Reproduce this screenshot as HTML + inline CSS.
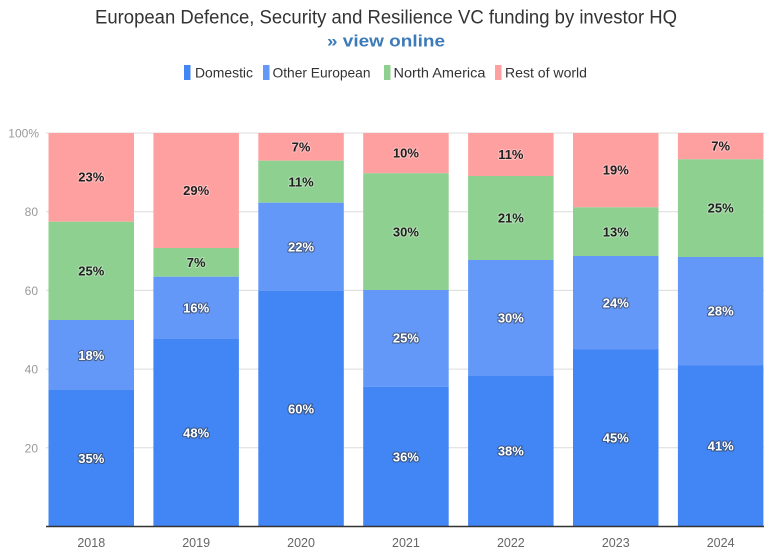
<!DOCTYPE html>
<html><head><meta charset="utf-8"><style>
html,body{margin:0;padding:0;background:#fff;}
svg{display:block;}
.lbl{font-family:"Liberation Sans",sans-serif;font-weight:bold;font-size:13px;text-anchor:middle;}
.w{fill:#fff;stroke:#333;stroke-width:2.2px;paint-order:stroke;stroke-linejoin:round;stroke-opacity:0.55;}
.d{fill:#222;stroke:#fff;stroke-width:2px;paint-order:stroke;stroke-linejoin:round;stroke-opacity:0.35;}
.ax{font-family:"Liberation Sans",sans-serif;font-size:12px;fill:#999;text-anchor:end;}
.xl{font-family:"Liberation Sans",sans-serif;font-size:12.5px;fill:#666;text-anchor:middle;}
.lg{font-family:"Liberation Sans",sans-serif;font-size:14px;fill:#333;}
</style></head><body>
<svg width="770" height="552" viewBox="0 0 770 552" xmlns="http://www.w3.org/2000/svg">
<rect width="770" height="552" fill="#fff"/>
<text x="95" y="23.5" font-family="Liberation Sans, sans-serif" font-size="19" fill="#333" textLength="582" lengthAdjust="spacingAndGlyphs">European Defence, Security and Resilience VC funding by investor HQ</text>
<text x="327" y="46.5" font-family="Liberation Sans, sans-serif" font-size="17" font-weight="bold" fill="#3d7ab8" textLength="118" lengthAdjust="spacingAndGlyphs">» view online</text>

<rect x="184" y="65" width="6.5" height="15" fill="#4285f4"/>
<text class="lg" x="195" y="77.5" textLength="58" lengthAdjust="spacingAndGlyphs">Domestic</text>
<rect x="263" y="65" width="6.5" height="15" fill="#6398f9"/>
<text class="lg" x="272.5" y="77.5" textLength="98" lengthAdjust="spacingAndGlyphs">Other European</text>
<rect x="384" y="65" width="6.5" height="15" fill="#8ed08f"/>
<text class="lg" x="393.5" y="77.5" textLength="92" lengthAdjust="spacingAndGlyphs">North America</text>
<rect x="495" y="65" width="6.5" height="15" fill="#ffa0a0"/>
<text class="lg" x="505" y="77.5" textLength="82" lengthAdjust="spacingAndGlyphs">Rest of world</text>

<g stroke="#dcdcdc" stroke-width="1">
<line x1="46" y1="133" x2="764" y2="133"/>
<line x1="46" y1="211.7" x2="764" y2="211.7"/>
<line x1="46" y1="290.4" x2="764" y2="290.4"/>
<line x1="46" y1="369.1" x2="764" y2="369.1"/>
<line x1="46" y1="447.8" x2="764" y2="447.8"/>
</g>
<text class="ax" x="39" y="137.5">100%</text>
<text class="ax" x="38" y="216">80</text>
<text class="ax" x="38" y="295">60</text>
<text class="ax" x="38" y="373.5">40</text>
<text class="ax" x="38" y="452.5">20</text>

<!-- 2018 -->
<g>
<rect x="48.5" y="133" width="85.5" height="88.7" fill="#ffa0a0"/>
<rect x="48.5" y="221.7" width="85.5" height="98.3" fill="#8ed08f"/>
<rect x="48.5" y="320" width="85.5" height="70" fill="#6398f9"/>
<rect x="48.5" y="390" width="85.5" height="136.5" fill="#4285f4"/>
</g>
<!-- 2019 -->
<g>
<rect x="153.4" y="133" width="85.5" height="115" fill="#ffa0a0"/>
<rect x="153.4" y="248" width="85.5" height="28.7" fill="#8ed08f"/>
<rect x="153.4" y="276.7" width="85.5" height="62.3" fill="#6398f9"/>
<rect x="153.4" y="339" width="85.5" height="187.5" fill="#4285f4"/>
</g>
<!-- 2020 -->
<g>
<rect x="258.3" y="133" width="85.5" height="27.7" fill="#ffa0a0"/>
<rect x="258.3" y="160.7" width="85.5" height="42" fill="#8ed08f"/>
<rect x="258.3" y="202.7" width="85.5" height="88" fill="#6398f9"/>
<rect x="258.3" y="290.7" width="85.5" height="235.8" fill="#4285f4"/>
</g>
<!-- 2021 -->
<g>
<rect x="363.2" y="133" width="85.5" height="40.3" fill="#ffa0a0"/>
<rect x="363.2" y="173.3" width="85.5" height="116.7" fill="#8ed08f"/>
<rect x="363.2" y="290" width="85.5" height="96.7" fill="#6398f9"/>
<rect x="363.2" y="386.7" width="85.5" height="139.8" fill="#4285f4"/>
</g>
<!-- 2022 -->
<g>
<rect x="468.1" y="133" width="85.5" height="43" fill="#ffa0a0"/>
<rect x="468.1" y="176" width="85.5" height="84" fill="#8ed08f"/>
<rect x="468.1" y="260" width="85.5" height="116" fill="#6398f9"/>
<rect x="468.1" y="376" width="85.5" height="150.5" fill="#4285f4"/>
</g>
<!-- 2023 -->
<g>
<rect x="573" y="133" width="85.5" height="74.3" fill="#ffa0a0"/>
<rect x="573" y="207.3" width="85.5" height="48.7" fill="#8ed08f"/>
<rect x="573" y="256" width="85.5" height="93.5" fill="#6398f9"/>
<rect x="573" y="349.5" width="85.5" height="177" fill="#4285f4"/>
</g>
<!-- 2024 -->
<g>
<rect x="677.9" y="133" width="85.5" height="26.3" fill="#ffa0a0"/>
<rect x="677.9" y="159.3" width="85.5" height="97.7" fill="#8ed08f"/>
<rect x="677.9" y="257" width="85.5" height="108.5" fill="#6398f9"/>
<rect x="677.9" y="365.5" width="85.5" height="161" fill="#4285f4"/>
</g>

<line x1="46" y1="526.5" x2="764" y2="526.5" stroke="#333" stroke-width="1.5"/>

<!-- labels -->
<text class="lbl d" x="91.25" y="181.5">23%</text>
<text class="lbl d" x="91.25" y="275.5">25%</text>
<text class="lbl w" x="91.25" y="360">18%</text>
<text class="lbl w" x="91.25" y="463">35%</text>

<text class="lbl d" x="196.15" y="195">29%</text>
<text class="lbl d" x="196.15" y="267">7%</text>
<text class="lbl w" x="196.15" y="312.5">16%</text>
<text class="lbl w" x="196.15" y="437.5">48%</text>

<text class="lbl d" x="301.05" y="151.5">7%</text>
<text class="lbl d" x="301.05" y="186.5">11%</text>
<text class="lbl w" x="301.05" y="251.5">22%</text>
<text class="lbl w" x="301.05" y="413.5">60%</text>

<text class="lbl d" x="405.95" y="157.5">10%</text>
<text class="lbl d" x="405.95" y="236.5">30%</text>
<text class="lbl w" x="405.95" y="342.5">25%</text>
<text class="lbl w" x="405.95" y="461.5">36%</text>

<text class="lbl d" x="510.85" y="159">11%</text>
<text class="lbl d" x="510.85" y="222.5">21%</text>
<text class="lbl w" x="510.85" y="322.5">30%</text>
<text class="lbl w" x="510.85" y="455.5">38%</text>

<text class="lbl d" x="615.75" y="174.5">19%</text>
<text class="lbl d" x="615.75" y="236.5">13%</text>
<text class="lbl w" x="615.75" y="307.5">24%</text>
<text class="lbl w" x="615.75" y="442.5">45%</text>

<text class="lbl d" x="720.65" y="150.5">7%</text>
<text class="lbl d" x="720.65" y="212.5">25%</text>
<text class="lbl w" x="720.65" y="315.5">28%</text>
<text class="lbl w" x="720.65" y="450.5">41%</text>

<text class="xl" x="91.25" y="547">2018</text>
<text class="xl" x="196.15" y="547">2019</text>
<text class="xl" x="301.05" y="547">2020</text>
<text class="xl" x="405.95" y="547">2021</text>
<text class="xl" x="510.85" y="547">2022</text>
<text class="xl" x="615.75" y="547">2023</text>
<text class="xl" x="720.65" y="547">2024</text>
</svg>
</body></html>
